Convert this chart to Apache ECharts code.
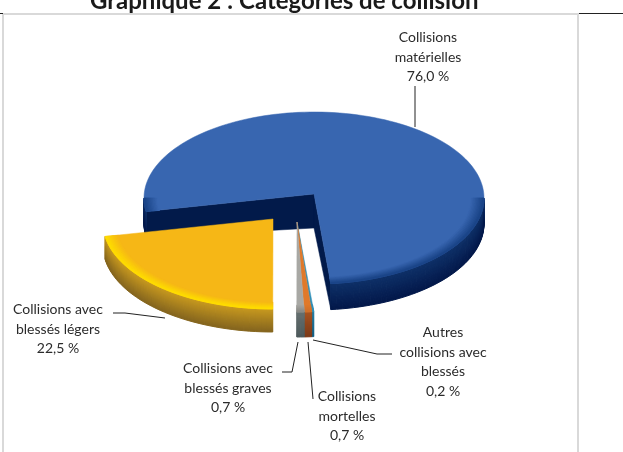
<!DOCTYPE html>
<html>
<head>
<meta charset="utf-8">
<title>Catégories de collision</title>
<style>
  html, body { margin: 0; padding: 0; background: #fff; }
  #chart { width: 623px; height: 452px; }
</style>
<script src="https://cdn.jsdelivr.net/npm/echarts@6/dist/echarts.min.js"></script>
</head>
<body>
<div id="chart"></div>
<script>
// valeurs, dans le sens horaire
const categories = [
  'Collisions\nmatérielles',
  'Autres\ncollisions avec\nblessés',
  'Collisions\nmortelles',
  'Collisions avec\nblessés graves',
  'Collisions avec\nblessés légers'
]
const values = [76.0, 0.2, 0.7, 0.7, 22.5]
const chartTitle = 'Graphique 2 : Catégories de collision'

// ellipse du dessus de la tarte
const CX = 314
const CY = 198
const RX = 170
const RY = 86
const APEX_DY = -4
const START_ANGLE = 261

const sliceStyle = [
  { dx: 0, dy: 0, top: '#3866b0', rim: ['#3866b0', '#1a4488'], side: ['#0e3068', '#02184a'], depth: 26,
    wall: '#021a4a', label: [428, 57], leader: [[415, 86], [415, 127]] },
  { dx: -17, dy: 28, top: '#2f8fb8', rim: ['#2f8fb8', '#2f8fb8'], side: ['#1f7ea6', '#0f5f86'], depth: 25,
    label: [443, 362], leader: [[313, 340], [377, 354], [392, 354]] },
  { dx: -17, dy: 28, top: '#e0792a', rim: ['#e0792a', '#d0702a'], side: ['#a9531f', '#7d3a18'], depth: 25,
    label: [347, 416], leader: [[308, 342], [313, 399]] },
  { dx: -17, dy: 28, top: '#a8a8a4', rim: ['#a8a8a4', '#8a8a86'], side: ['#667070', '#4e5a5c'], depth: 25,
    label: [228, 388], leader: [[282, 372], [292, 372], [298, 342]] },
  { dx: -41, dy: 25, top: '#f6b716', rim: ['#f6b716', '#ffdc00'], side: ['#c99a1e', '#86661e'], depth: 23,
    label: [58, 329], leader: [[113, 313], [125, 313], [165, 318]] }
]

const total = values.reduce((a, b) => a + b, 0)
const slices = []
let cursor = START_ANGLE
values.forEach((v) => {
  const span = (v / total) * 360
  slices.push({ from: cursor, to: cursor + span })
  cursor += span
})

// angle en degrés, sens horaire depuis le haut
function rimPoint (angle, s, scale, drop) {
  const rad = (angle * Math.PI) / 180
  return [
    CX + s.dx + RX * scale * Math.sin(rad),
    CY + s.dy + drop - RY * scale * Math.cos(rad)
  ]
}

function arcPoints (from, to, s, scale, drop) {
  const pts = []
  const steps = Math.max(2, Math.ceil(Math.abs(to - from) / 2))
  for (let i = 0; i <= steps; i++) {
    pts.push(rimPoint(from + ((to - from) * i) / steps, s, scale, drop))
  }
  return pts
}

function mix (a, b, t) {
  const pa = parseInt(a.slice(1), 16)
  const pb = parseInt(b.slice(1), 16)
  const out = [16, 8, 0].map((sh) => {
    const ca = (pa >> sh) & 255
    const cb = (pb >> sh) & 255
    return Math.round(ca + (cb - ca) * t)
  })
  return `rgb(${out.join(',')})`
}

function poly (points, fill, stroke) {
  return {
    type: 'polygon',
    shape: { points },
    style: { fill, stroke: fill, lineWidth: stroke || 0.5 }
  }
}

// parties de l'arc visibles de face (entre 90 et 270 degrés)
function frontRanges (from, to) {
  const out = []
  for (let k = -1; k <= 1; k++) {
    const lo = Math.max(from, 90 + 360 * k)
    const hi = Math.min(to, 270 + 360 * k)
    if (hi > lo) out.push([lo, hi])
  }
  return out
}

function renderSlice (params) {
  const i = params.dataIndex
  const s = sliceStyle[i]
  const { from, to } = slices[i]
  const apex = [CX + s.dx, CY + s.dy + APEX_DY]
  const children = []

  // parois de la coupe
  if (s.wall) {
    [from, to].forEach((a) => {
      const p = rimPoint(a, s, 1, 0)
      children.push(poly([apex, p, [p[0], p[1] + s.depth], [apex[0], apex[1] + 34]], s.wall))
    })
  }

  // flanc en bandes pour le dégradé
  const bands = 24
  frontRanges(from, to).forEach(([lo, hi]) => {
    for (let b = 0; b < bands; b++) {
      const d1 = (s.depth * b) / bands
      const d2 = (s.depth * (b + 1)) / bands
      const upper = arcPoints(lo, hi, s, 1, d1)
      const lower = arcPoints(lo, hi, s, 1, d2).reverse()
      children.push(poly(upper.concat(lower), mix(s.side[0], s.side[1], b / (bands - 1)), 1))
    }
  })

  // dessus
  const top = [apex].concat(arcPoints(from, to, s, 1, 0))
  children.push(poly(top, s.top))

  // liseré du bord avant
  const rims = 10
  frontRanges(from, to).forEach(([lo, hi]) => {
    for (let b = 0; b < rims; b++) {
      const s1 = 0.92 + (0.08 * b) / rims
      const s2 = 0.92 + (0.08 * (b + 1)) / rims
      const inner = arcPoints(lo, hi, s, s1, 0)
      const outer = arcPoints(lo, hi, s, s2, 0).reverse()
      children.push(poly(inner.concat(outer), mix(s.rim[0], s.rim[1], b / (rims - 1)), 1))
    }
  })

  // étiquette et trait de rappel
  children.push({
    type: 'polyline',
    shape: { points: s.leader },
    style: { fill: 'none', stroke: '#222', lineWidth: 1 }
  })
  const pct = values[i].toFixed(1).replace('.', ',') + ' %'
  children.push({
    type: 'text',
    style: {
      x: s.label[0],
      y: s.label[1],
      text: categories[i] + '\n' + pct,
      align: 'center',
      verticalAlign: 'middle',
      fill: '#2b2b2b',
      font: '14px Lato',
      lineHeight: 19.5
    }
  })
  return { type: 'group', children }
}

const chartInstance = echarts.init(document.getElementById('chart'))
chartInstance.setOption({
  animation: false,
  backgroundColor: '#fff',
  title: {
    text: chartTitle,
    left: 85,
    top: -16,
    textStyle: { fontFamily: 'Lato', fontWeight: 'bold', fontSize: 24, color: '#1a1a1a' }
  },
  graphic: [
    { type: 'rect', shape: { x: 3, y: 14, width: 575, height: 445 }, style: { fill: 'none', stroke: '#d9d9d9', lineWidth: 2 } },
    { type: 'line', shape: { x1: 0, y1: 13.5, x2: 3, y2: 13.5 }, style: { stroke: '#222', lineWidth: 1 } },
    { type: 'line', shape: { x1: 579, y1: 13.5, x2: 623, y2: 13.5 }, style: { stroke: '#222', lineWidth: 1 } }
  ],
  series: [
    {
      type: 'custom',
      coordinateSystem: 'none',
      clip: false,
      renderItem: renderSlice,
      // on dessine le bleu, puis les petites tranches, puis le jaune
      data: values.map((v, i) => ({ name: categories[i], value: v }))
    }
  ]
})
</script>
</body>
</html>
